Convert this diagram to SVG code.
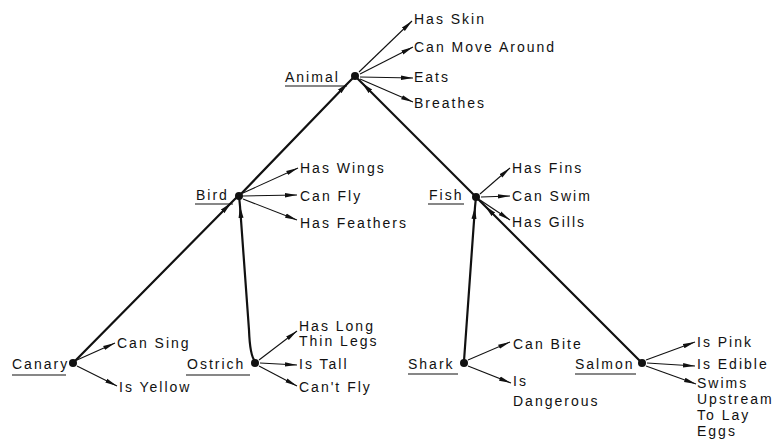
<svg xmlns="http://www.w3.org/2000/svg" width="777" height="446" viewBox="0 0 777 446">
<style>
text{font-family:"Liberation Sans",Arial,sans-serif;font-size:14px;fill:#111;letter-spacing:2px}
.thin{stroke:#111;stroke-width:1.1;fill:none;marker-end:url(#ah)}
.isa{stroke:#111;stroke-width:2.2;fill:none;marker-mid:url(#ahb)}
.line{stroke:#111;stroke-width:2.2;fill:none}
.ul{stroke:#111;stroke-width:1.2}
.dot{fill:#111}
</style>
<defs>
<marker id="ah" viewBox="0 0 12 6" refX="12" refY="3" markerWidth="12" markerHeight="6" markerUnits="userSpaceOnUse" orient="auto"><path d="M0,0.8 L12,3 L0,5.2 Z" fill="#111"/></marker>
<marker id="ahb" viewBox="0 0 12 6" refX="12" refY="3" markerWidth="12" markerHeight="6" markerUnits="userSpaceOnUse" orient="auto"><path d="M0,0.5 L12,3 L0,5.5 Z" fill="#111"/></marker>
</defs>
<g id="connectors">
<path class="isa" d="M75,361 L231,203 L238,196"/>
<path class="isa" d="M239,196 L348,83 L355,76"/>
<path class="line" d="M255,361 C251,357 249.6,346 249,330"/>
<path class="isa" d="M249,330 L240,206 L239,196"/>
<path class="isa" d="M476,197 L362,83 L355,76"/>
<path class="isa" d="M464,361 L475,207 L476,197"/>
<path class="isa" d="M641,362 L485,206 L476,197"/>
<path class="thin" d="M359,72 L412,21"/>
<path class="thin" d="M360,74 L413,47"/>
<path class="thin" d="M360,77 L413,78"/>
<path class="thin" d="M360,79 L413,102"/>
<path class="thin" d="M243,193 L298,168"/>
<path class="thin" d="M243,196 L297,195"/>
<path class="thin" d="M243,199 L297,220"/>
<path class="thin" d="M480,194 L510,168"/>
<path class="thin" d="M481,197 L510,196"/>
<path class="thin" d="M480,200 L510,220"/>
<path class="thin" d="M77,360 L115,343"/>
<path class="thin" d="M77,366 L117,386"/>
<path class="thin" d="M259,360 L297,331"/>
<path class="thin" d="M260,363 L297,365"/>
<path class="thin" d="M259,366 L297,386"/>
<path class="thin" d="M468,360 L510,342"/>
<path class="thin" d="M468,366 L511,383"/>
<path class="thin" d="M646,360 L695,342"/>
<path class="thin" d="M647,363 L695,366"/>
<path class="thin" d="M646,366 L696,384"/>
</g>
<g id="animal">
<circle class="dot" cx="355" cy="76" r="4"/>
<text x="285" y="82">Animal</text>
<line class="ul" x1="285" y1="86" x2="347" y2="86"/>
<text x="414" y="24">Has Skin</text>
<text x="414" y="52">Can Move Around</text>
<text x="414" y="82">Eats</text>
<text x="414" y="108">Breathes</text>
</g>
<g id="bird">
<circle class="dot" cx="239" cy="196" r="4"/>
<text x="196" y="200">Bird</text>
<line class="ul" x1="195" y1="204" x2="233" y2="204"/>
<text x="300" y="173">Has Wings</text>
<text x="300" y="201">Can Fly</text>
<text x="300" y="228">Has Feathers</text>
</g>
<g id="fish">
<circle class="dot" cx="476" cy="197" r="4"/>
<text x="429" y="200">Fish</text>
<line class="ul" x1="428" y1="204" x2="464" y2="204"/>
<text x="512" y="173">Has Fins</text>
<text x="512" y="201">Can Swim</text>
<text x="512" y="227">Has Gills</text>
</g>
<g id="canary">
<circle class="dot" cx="73" cy="363" r="4"/>
<text x="12" y="369">Canary</text>
<line class="ul" x1="12" y1="375" x2="66" y2="375"/>
<text x="117" y="348">Can Sing</text>
<text x="119" y="392">Is Yellow</text>
</g>
<g id="ostrich">
<circle class="dot" cx="255" cy="363" r="4"/>
<text x="187" y="369">Ostrich</text>
<line class="ul" x1="186" y1="375" x2="250" y2="375"/>
<text x="299" y="331">Has Long</text>
<text x="299" y="346">Thin Legs</text>
<text x="299" y="369">Is Tall</text>
<text x="299" y="392">Can't Fly</text>
</g>
<g id="shark">
<circle class="dot" cx="464" cy="363" r="4"/>
<text x="408" y="369">Shark</text>
<line class="ul" x1="408" y1="374" x2="458" y2="374"/>
<text x="513" y="349">Can Bite</text>
<text x="513" y="386">Is</text>
<text x="513" y="406">Dangerous</text>
</g>
<g id="salmon">
<circle class="dot" cx="642" cy="363" r="4"/>
<text x="575" y="369">Salmon</text>
<line class="ul" x1="575" y1="374" x2="636" y2="374"/>
<text x="697" y="347">Is Pink</text>
<text x="697" y="369">Is Edible</text>
<text x="697" y="388">Swims</text>
<text x="697" y="404">Upstream</text>
<text x="697" y="420">To Lay</text>
<text x="697" y="436">Eggs</text>
</g>
</svg>
